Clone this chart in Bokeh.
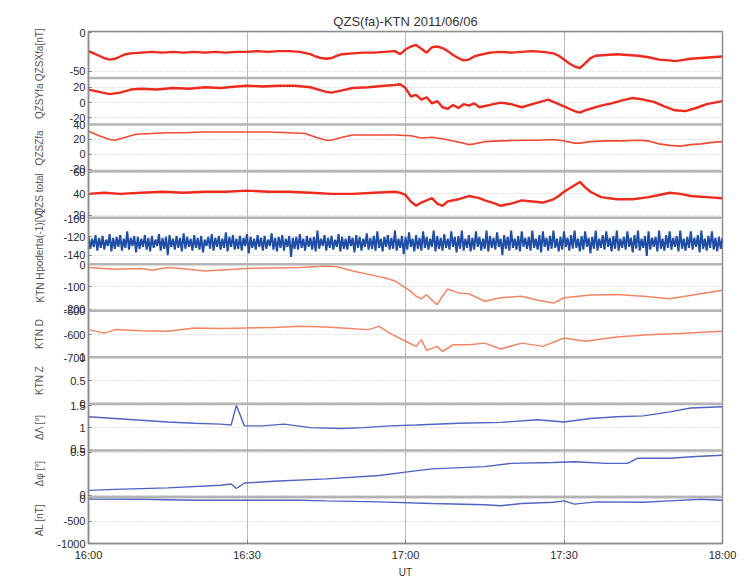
import numpy as np
from bokeh.plotting import figure
from bokeh.models import Range1d, FixedTicker, Span, LinearAxis
from bokeh.embed import file_html
from bokeh.resources import INLINE

FONT = "Liberation Sans"
title_text = "QZS(fa)-KTN 2011/06/06"
x_ticks = [0, 30, 60, 90, 120]
x_tick_labels = ["16:00", "16:30", "17:00", "17:30", "18:00"]
x_label = "UT"

# ---------------- data (minutes after 16:00 UT) ----------------
t1 = [0,1,2,3,4,5,6,7,8,10,12,14,16,18,20,22,24,26,28,30,32,34,36,38,40,42,43,44,45,46,47,48,50,52,54,56,58,59,60,61,62,63,64,65,66,67,68,69,70,71,72,73,74,76,78,80,82,84,86,88,89,90,91,92,93,94,95,96,98,100,102,104,106,108,110,111,112,114,116,118,120]
qzs_x = [-24,-27,-30,-33,-35,-34,-31,-28,-27,-26,-25,-26,-25,-26,-25,-26,-25,-26,-25,-25,-24,-25,-24,-24,-25,-28,-31,-33,-34,-33,-30,-28,-27,-26,-26,-25,-24,-28,-22,-18,-16,-21,-26,-19,-18,-20,-24,-29,-33,-36,-35,-31,-29,-26,-25,-26,-25,-24,-25,-27,-30,-35,-40,-44,-46,-40,-33,-30,-29,-28,-29,-30,-32,-35,-36,-37,-36,-34,-33,-32,-31]

t2 = [0,2,4,6,8,10,13,16,19,22,25,28,30,33,36,39,42,44,45,46,48,50,53,56,58,59,60,61,62,63,64,65,66,67,68,69,70,71,72,73,74,76,78,80,82,84,86,87,88,90,91,92,93,94,95,97,99,101,103,105,107,109,111,113,115,117,120]
qzs_y = [17,14,11,13,17,18,17,19,18,20,19,21,22,21,22,22,20,16,14,13,16,19,20,22,23,24,19,8,10,4,7,-1,2,-6,-8,-3,-7,-2,-4,-1,-6,-3,0,-2,-6,-2,2,4,1,-5,-8,-11,-13,-10,-8,-4,-1,3,6,4,1,-5,-10,-11,-7,-2,2]

t3 = [0,2,4,5,7,9,12,15,18,22,26,30,34,38,41,43,45,46,48,50,54,58,61,63,65,67,69,71,72,73,75,78,82,85,88,90,92,93,95,98,101,104,106,108,110,112,114,116,118,120]
qzs_z = [31,25,20,19,23,27,28,29,29,30,30,30,30,29,28,23,19,19,23,26,26,26,25,22,23,21,18,15,13,14,17,18,19,19,20,18,15,15,17,18,18,19,18,14,12,11,13,14,16,17]

t4 = [0,3,6,10,14,18,22,26,30,34,38,42,46,50,54,58,59,60,61,62,63,64,65,66,67,68,70,72,74,75,77,78,80,82,84,86,88,89,90,91,92,93,94,95,97,100,103,106,108,110,112,114,117,120]
qzs_total = [40,41,40,41,42,41,42,42,43,42,42,41,40,40,41,42,41,39,33,29,32,34,36,31,29,33,35,38,36,34,31,29,31,34,33,32,35,38,42,45,48,51,46,42,37,35,35,37,39,41,40,38,37,36]

ktn_pc = [
    -120,-133,-122,-131,-118,-135,-121,-132,-119,-134,-123,-130,-117,-136,-121,-133,-120,-131,-118,-135,
    -122,-132,-114,-134,-121,-130,-119,-137,-120,-133,-122,-131,-118,-134,-121,-136,-119,-132,-123,-130,
    -117,-135,-121,-133,-120,-140,-118,-131,-122,-134,-119,-132,-121,-136,-116,-133,-120,-131,-122,-135,
    -118,-132,-121,-134,-119,-137,-123,-130,-120,-133,-117,-135,-121,-131,-119,-134,-122,-132,-115,-136,
    -120,-131,-118,-134,-122,-133,-119,-135,-121,-130,-117,-138,-120,-132,-122,-134,-118,-131,-121,-135,
    -119,-133,-123,-130,-116,-134,-121,-136,-120,-132,-118,-135,-122,-131,-119,-142,-121,-133,-120,-134,
    -117,-132,-122,-135,-119,-131,-121,-134,-120,-136,-113,-133,-122,-130,-118,-135,-121,-132,-119,-134,
    -123,-131,-117,-136,-120,-133,-122,-134,-119,-130,-121,-137,-118,-132,-120,-135,-122,-131,-116,-134,
    -121,-133,-119,-135,-114,-132,-122,-136,-120,-131,-118,-134,-121,-133,-113,-135,-122,-132,-119,-139,
    -120,-134,-115,-131,-122,-136,-118,-133,-121,-135,-114,-132,-120,-134,-122,-131,-113,-136,-119,-133,
    -121,-135,-117,-132,-122,-134,-114,-131,-120,-137,-119,-133,-113,-135,-122,-132,-118,-136,-121,-134,
    -114,-131,-120,-135,-122,-133,-113,-136,-119,-132,-121,-134,-115,-131,-122,-140,-118,-133,-120,-135,
    -113,-132,-122,-134,-119,-136,-114,-131,-121,-133,-120,-135,-113,-132,-122,-134,-118,-137,-114,-131,
    -121,-135,-119,-133,-113,-132,-122,-136,-120,-134,-114,-131,-121,-135,-118,-133,-113,-132,-122,-136,
    -119,-134,-114,-131,-121,-138,-120,-133,-113,-135,-122,-132,-118,-134,-114,-131,-121,-136,-119,-133,
    -113,-135,-122,-132,-120,-134,-114,-131,-121,-137,-118,-133,-113,-135,-122,-132,-119,-141,-114,-134,
    -121,-131,-120,-136,-113,-133,-122,-135,-118,-132,-114,-134,-121,-131,-119,-136,-113,-133,-122,-135,
    -120,-132,-114,-134,-121,-131,-118,-137,-113,-133,-122,-135,-119,-132,-114,-134,-121,-136,-120,-133,
    -121]
t5 = np.linspace(0, 120, len(ktn_pc))

t6 = [0,3,5,8,10,12,15,18,22,26,30,35,40,45,47,50,53,56,58,60,61,62,63,64,65,66,67,68,70,72,75,78,82,85,88,90,95,100,105,110,115,120]
ktn_h = [-12,-16,-20,-17,-16,-24,-12,-18,-28,-22,-16,-14,-12,-5,-8,-28,-43,-58,-73,-104,-120,-142,-154,-135,-160,-180,-142,-109,-127,-131,-165,-149,-142,-160,-173,-149,-137,-134,-142,-154,-134,-115]

t7 = [0,3,5,10,15,20,25,30,35,40,45,48,53,55,57,60,62,63,64,66,67,69,72,75,78,82,86,90,94,100,106,112,116,120]
ktn_d = [-579,-594,-579,-584,-586,-572,-574,-572,-570,-565,-568,-572,-579,-565,-594,-629,-651,-622,-668,-651,-673,-644,-644,-637,-662,-637,-651,-615,-629,-611,-601,-596,-590,-586]

t9 = [0,5,10,15,20,25,27,28,29.5,33,37,42,48,52,57,62,70,78,85,90,95,100,105,110,114,120]
d_lambda = [1.25,1.21,1.17,1.13,1.10,1.08,1.06,1.51,1.04,1.04,1.08,1.0,0.98,1.0,1.04,1.06,1.10,1.12,1.18,1.13,1.21,1.25,1.27,1.36,1.45,1.48]

t10 = [0,5,15,25,27,28,29.5,35,45,55,60,65,75,80,88,92,98,102,104,110,115,120]
d_phi = [0.056,0.068,0.086,0.116,0.13,0.078,0.142,0.162,0.19,0.23,0.268,0.306,0.332,0.37,0.38,0.39,0.37,0.37,0.43,0.43,0.45,0.465]

t11 = [0,10,20,30,40,45,55,65,75,78,82,88,90,92,96,105,110,116,120]
al = [-10,-13,-35,-35,-35,-50,-72,-108,-137,-159,-108,-79,-50,-123,-72,-79,-50,-13,-35]

# panel names, value ranges and ticks (top to bottom)
panel_names = ["QZSXfa[nT]", "QZSYfa", "QZSZfa", "QZS total", "poderta(-1)[V]",
               "KTN H", "KTN D", "KTN Z", "\u0394\u039b [\u00b0]", "\u0394\u03c6 [\u00b0]", "AL [nT]"]
panel_lo = [-59, -28.6, -22.7, 18, -150, -208, -698, 0, 0.477, -0.02, -1000]
panel_hi = [1.5, 32, 40, 61, -98.9, 3, -498, 1, 1.545, 0.521, 38]
panel_ticks = [[0, -50], [20, 0, -20], [40, 20, 0, -20], [60, 40, 20], [-100, -120, -140],
               [0, -100, -200], [-500, -600, -700], [1, 0.5, 0], [1.5, 1, 0.5], [0.5, 0], [0, -500, -1000]]

series = [
    (0, t1, qzs_x, "#ee2a1c", 2.4),
    (1, t2, qzs_y, "#ee2a1c", 2.4),
    (2, t3, qzs_z, "#f24a30", 1.6),
    (3, t4, qzs_total, "#ee2a1c", 2.4),
    (4, t5, ktn_pc, "#1f4ea6", 2.0),
    (5, t6, ktn_h, "#f58463", 1.5),
    (6, t7, ktn_d, "#f58463", 1.5),
    (8, t9, d_lambda, "#4f63c4", 1.4),
    (9, t10, d_phi, "#4f63c4", 1.4),
    (10, t11, al, "#4f63c4", 1.4),
]

N = len(panel_names)
U = 1000
LEFT, RIGHT_EDGE, TOP, BOTTOM = 88, 722, 31, 34
W, H = 740, 580

p = figure(width=W, height=H, x_range=Range1d(0, 120), y_range=Range1d(0, N * U),
           output_backend="svg", toolbar_location=None, title=title_text,
           min_border_left=LEFT, min_border_right=W - RIGHT_EDGE, min_border_top=TOP,
           min_border_bottom=BOTTOM)

extra = {}
for k in range(N):
    lo, hi = panel_lo[k], panel_hi[k]
    span = hi - lo
    extra["p%d" % k] = Range1d(lo - (N - 1 - k) * span, hi + k * span)
p.extra_y_ranges = extra

# ticks
tick_pos = []
overrides = {}
for k in range(N):
    lo, hi = panel_lo[k], panel_hi[k]
    for v in panel_ticks[k]:
        pos = int(round((N - 1 - k) * U + (v - lo) / (hi - lo) * U))
        if 0 <= pos <= N * U and pos not in overrides:
            tick_pos.append(pos)
            overrides[pos] = "%g" % v

p.yaxis.ticker = FixedTicker(ticks=tick_pos, minor_ticks=[])
p.yaxis.major_label_overrides = overrides
p.ygrid.ticker = FixedTicker(ticks=tick_pos, minor_ticks=[])
p.ygrid.grid_line_color = "#c4c4c4"
p.ygrid.grid_line_dash = "1 2"
p.ygrid.grid_line_width = 1

p.xaxis.ticker = FixedTicker(ticks=x_ticks, minor_ticks=[])
p.xaxis.major_label_overrides = dict(zip(x_ticks, x_tick_labels))
p.xgrid.ticker = FixedTicker(ticks=x_ticks[1:-1], minor_ticks=[])
p.xgrid.grid_line_color = "#b8b8b8"
p.xgrid.grid_line_width = 1
p.xaxis.axis_label = x_label

for ax in (p.xaxis[0], p.yaxis[0]):
    ax.axis_line_color = "#8c8c8c"
    ax.axis_line_width = 1.5
    ax.major_tick_line_color = "#777777"
    ax.major_tick_in = 3
    ax.major_tick_out = 0
    ax.minor_tick_line_color = None
    ax.major_label_text_font = FONT
    ax.major_label_text_font_size = "11px"
    ax.major_label_text_color = "#2a2a2a"
    ax.major_label_standoff = 3
p.xaxis.major_label_standoff = 5
p.xaxis.axis_label_text_font = FONT
p.xaxis.axis_label_text_font_size = "10px"
p.xaxis.axis_label_text_font_style = "normal"
p.xaxis.axis_label_text_color = "#333333"
p.xaxis.axis_label_standoff = 3

# panel names: a second, tick-less axis on the left whose labels are the panel names
name_pos = [(N - 1 - k) * U + U // 2 for k in range(N)]
name_axis = LinearAxis(ticker=FixedTicker(ticks=name_pos, minor_ticks=[]),
                       major_label_overrides=dict(zip(name_pos, panel_names)),
                       major_label_orientation="vertical",
                       axis_line_color=None, major_tick_line_color=None,
                       minor_tick_line_color=None, major_label_standoff=3,
                       major_label_text_font=FONT, major_label_text_font_size="10px",
                       major_label_text_color="#555555")
p.add_layout(name_axis, "left")

p.outline_line_color = "#8c8c8c"
p.outline_line_width = 1.5
p.title.align = "center"
p.title.text_font = FONT
p.title.text_font_size = "13px"
p.title.text_font_style = "normal"
p.title.text_color = "#333333"
p.title.standoff = 6

# panel separators
for j in range(1, N):
    p.add_layout(Span(location=j * U, dimension="width", line_color="#b4b4b4", line_width=2.5))

for k, tt, vv, col, lw in series:
    p.line(tt, vv, y_range_name="p%d" % k, line_color=col, line_width=lw)

open("out.html", "w").write(file_html(p, INLINE))
